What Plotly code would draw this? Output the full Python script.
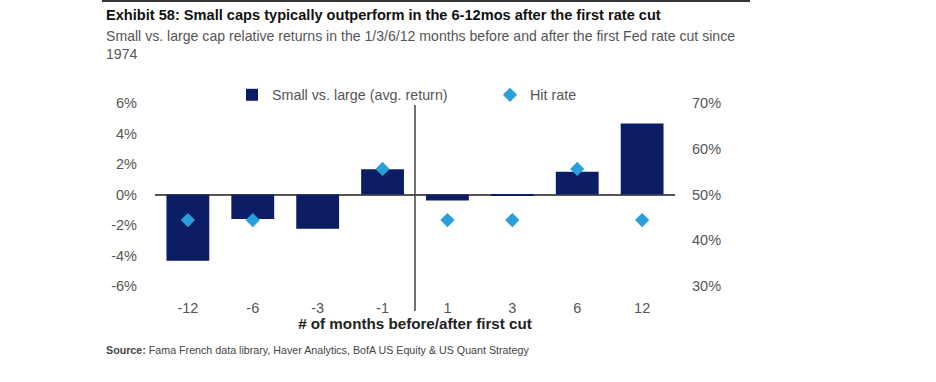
import plotly.graph_objects as go

# ---- data ----
months = ["-12", "-6", "-3", "-1", "1", "3", "6", "12"]
avg_return = [-4.35, -1.6, -2.25, 1.65, -0.4, -0.1, 1.5, 4.65]   # % small vs large
hit_rate = [44.4, 44.4, None, 55.6, 44.4, 44.4, 55.6, 44.4]      # %
left_ticks = [-6, -4, -2, 0, 2, 4, 6]
right_ticks = [30, 40, 50, 60, 70]

W, H = 936, 382
L, R, T, B = 155, 675, 103, 286  # plot area in pixels


def px(x):
    return (x - L) / (R - L)


def py(y):
    return (B - y) / (B - T)


NAVY = "#0c1d66"
CYAN = "#2a9fd8"
GREY = "#555555"
FONT = "Liberation Sans, Arial, sans-serif"

fig = go.Figure()
fig.add_trace(go.Bar(
    x=months, y=avg_return, name="Small vs. large (avg. return)",
    marker=dict(color=NAVY, line=dict(width=0)), width=0.66, yaxis="y",
    legend="legend",
))
fig.add_trace(go.Scatter(
    x=months, y=hit_rate, name="Hit rate", mode="markers",
    marker=dict(symbol="diamond", size=11, color=CYAN), yaxis="y2",
    legend="legend2",
))

legend_common = dict(orientation="h", xanchor="left", yanchor="middle",
                     font=dict(size=14.3, color=GREY), bgcolor="rgba(0,0,0,0)",
                     itemwidth=30)
fig.update_layout(
    width=W, height=H,
    margin=dict(l=L, r=W - R, t=T, b=H - B, pad=0, autoexpand=False),
    paper_bgcolor="white", plot_bgcolor="white",
    font=dict(family=FONT, size=13, color=GREY),
    showlegend=True, hovermode=False,
    legend=dict(x=px(232), y=py(95), **legend_common),
    legend2=dict(x=px(490), y=py(95), **legend_common),
    xaxis=dict(type="category", showgrid=False, showline=False, ticks="",
               tickfont=dict(size=14.5, color=GREY), ticklabelstandoff=11,
               title=dict(text="<b># of months before/after first cut</b>",
                          font=dict(size=15.2, color="#222222"), standoff=2)),
    yaxis=dict(range=[-6, 6], tickvals=left_ticks,
               ticktext=[f"{v}%" for v in left_ticks], showgrid=False,
               zeroline=True, zerolinecolor="#555555", zerolinewidth=1.5,
               showline=False, ticks="", tickfont=dict(size=14.5, color=GREY),
               ticklabelstandoff=17),
    yaxis2=dict(range=[30, 70], tickvals=right_ticks,
                ticktext=[f"{v}%" for v in right_ticks], overlaying="y", side="right",
                showgrid=False, zeroline=False, showline=False, ticks="",
                tickfont=dict(size=14.5, color=GREY), ticklabelstandoff=16),
)

# vertical marker between before / after
fig.add_shape(type="line", xref="x", yref="paper", x0=3.5, x1=3.5,
              y0=py(311), y1=py(105), line=dict(color="#444444", width=1.5))
# top rule
fig.add_shape(type="line", xref="paper", yref="paper", x0=px(102), x1=px(750),
              y0=py(1), y1=py(1), line=dict(color="#333333", width=2))

fig.add_annotation(xref="paper", yref="paper", x=px(104), y=py(15), xanchor="left",
                   yanchor="middle", showarrow=False, align="left",
                   text="<b>Exhibit 58: Small caps typically outperform in the 6-12mos after the first rate cut</b>",
                   font=dict(size=14.6, color="#111111", family=FONT))
fig.add_annotation(xref="paper", yref="paper", x=px(104), y=py(26), xanchor="left",
                   yanchor="top", showarrow=False, align="left",
                   text="Small vs. large cap relative returns in the 1/3/6/12 months before and after the first Fed rate cut since<br>1974",
                   font=dict(size=14.1, color=GREY, family=FONT))
fig.add_annotation(xref="paper", yref="paper", x=px(104), y=py(350), xanchor="left",
                   yanchor="middle", showarrow=False, align="left",
                   text="<b>Source:</b> Fama French data library, Haver Analytics, BofA US Equity & US Quant Strategy",
                   font=dict(size=10.7, color="#444444", family=FONT))

fig.write_html("out.html", config={"displayModeBar": False},
               post_script="document.body.style.margin='0';")
